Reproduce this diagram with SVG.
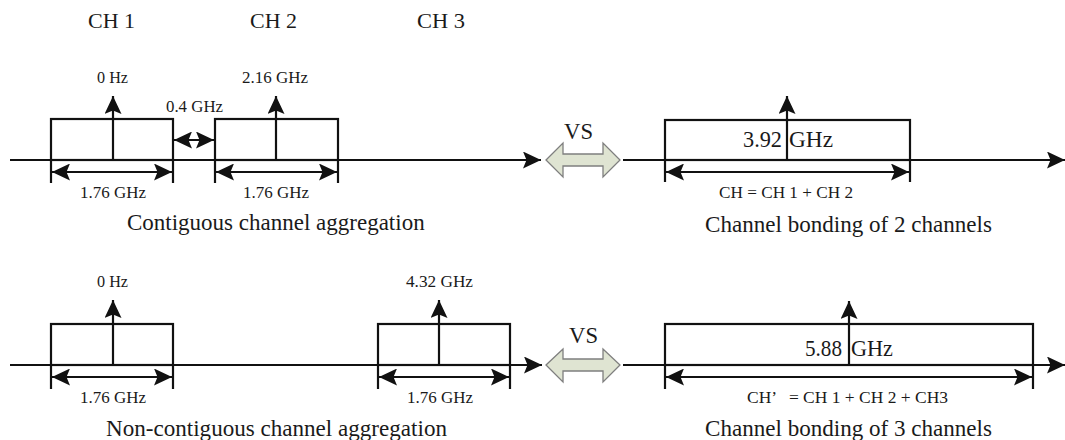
<svg xmlns="http://www.w3.org/2000/svg" width="1065" height="440" viewBox="0 0 1065 440">
<defs>
<marker id="ah" markerUnits="userSpaceOnUse" markerWidth="18" markerHeight="17" refX="18" refY="8.5" orient="auto-start-reverse" viewBox="0 0 18 17">
<path d="M0,0 L18,8.5 L0,17 L3.5,8.5 z" fill="#111"/>
</marker>
<style>
.ax{stroke:#111;stroke-width:1.8;fill:none}
.bx{stroke:#111;stroke-width:2.2;fill:none}
.tk{stroke:#111;stroke-width:2.2;fill:none}
.st{stroke:#111;stroke-width:2.2;fill:none;marker-end:url(#ah)}
.dm{stroke:#111;stroke-width:2.2;fill:none;marker-start:url(#ah);marker-end:url(#ah)}
.vs{fill:#dfe4d2;stroke:#7f7f7f;stroke-width:1.3}
text{font-family:"Liberation Serif","Times New Roman",serif;fill:#1a1a1a}
.sm{font-size:17px}
.hd{font-size:21px}
.cap{font-size:23px}
.big{font-size:23px}
</style>
</defs>
<rect width="1065" height="440" fill="#fff"/>

<g id="headers">
<text class="hd" x="88" y="28" textLength="47" lengthAdjust="spacingAndGlyphs">CH 1</text>
<text class="hd" x="250" y="28" textLength="47" lengthAdjust="spacingAndGlyphs">CH 2</text>
<text class="hd" x="417" y="28" textLength="48" lengthAdjust="spacingAndGlyphs">CH 3</text>
</g>

<g id="connectors">
<line class="ax" x1="10" y1="160" x2="541" y2="160" style="marker-end:url(#ah)"/>
<line class="ax" x1="623" y1="160" x2="1065" y2="160" style="marker-end:url(#ah)"/>
<line class="ax" x1="10" y1="365" x2="542" y2="365" style="marker-end:url(#ah)"/>
<line class="ax" x1="623" y1="365" x2="1065" y2="365" style="marker-end:url(#ah)"/>
<line class="dm" x1="174" y1="140" x2="214" y2="140"/>
</g>

<g id="top-ch1">
<rect class="bx" x="51" y="119" width="122" height="41"/>
<line class="st" x1="113" y1="160" x2="113" y2="96"/>
<line class="tk" x1="51" y1="160" x2="51" y2="183"/>
<line class="tk" x1="173" y1="160" x2="173" y2="183"/>
<line class="dm" x1="52" y1="172" x2="172" y2="172"/>
<text class="sm" x="97" y="83" textLength="31" lengthAdjust="spacingAndGlyphs">0 Hz</text>
<text class="sm" x="80" y="198" textLength="66" lengthAdjust="spacingAndGlyphs">1.76 GHz</text>
</g>

<g id="top-ch2">
<rect class="bx" x="215" y="119" width="123" height="41"/>
<line class="st" x1="276" y1="160" x2="276" y2="96"/>
<line class="tk" x1="215" y1="160" x2="215" y2="183"/>
<line class="tk" x1="338" y1="160" x2="338" y2="183"/>
<line class="dm" x1="216" y1="172" x2="337" y2="172"/>
<text class="sm" x="242" y="83" textLength="66" lengthAdjust="spacingAndGlyphs">2.16 GHz</text>
<text class="sm" x="243" y="198" textLength="66" lengthAdjust="spacingAndGlyphs">1.76 GHz</text>
</g>

<g id="gap-label">
<text class="sm" x="166" y="112" textLength="57" lengthAdjust="spacingAndGlyphs">0.4 GHz</text>
</g>

<g id="top-vs">
<polygon class="vs" points="546,160 563,143 563,154 603,154 603,143 620,160 603,177 603,166 563,166 563,177"/>
<text class="big" x="564" y="139" textLength="29" lengthAdjust="spacingAndGlyphs">VS</text>
</g>

<g id="top-bond">
<rect class="bx" x="665" y="120" width="245" height="40"/>
<line class="st" x1="787" y1="160" x2="787" y2="96"/>
<line class="tk" x1="665" y1="160" x2="665" y2="182"/>
<line class="tk" x1="910" y1="160" x2="910" y2="182"/>
<line class="dm" x1="666" y1="172" x2="909" y2="172"/>
<text class="big" x="743" y="147" textLength="39" lengthAdjust="spacingAndGlyphs">3.92</text>
<text class="big" x="789" y="147" textLength="44" lengthAdjust="spacingAndGlyphs">GHz</text>
<text class="sm" x="719" y="198" textLength="134" lengthAdjust="spacingAndGlyphs">CH = CH 1 + CH 2</text>
</g>

<g id="captions-top">
<text class="cap" x="127" y="230">Contiguous channel aggregation</text>
<text class="cap" x="705" y="232" textLength="287" lengthAdjust="spacingAndGlyphs">Channel bonding of 2 channels</text>
</g>

<g id="bot-ch1">
<rect class="bx" x="51" y="324" width="122" height="41"/>
<line class="st" x1="113" y1="365" x2="113" y2="300"/>
<line class="tk" x1="51" y1="365" x2="51" y2="389"/>
<line class="tk" x1="173" y1="365" x2="173" y2="389"/>
<line class="dm" x1="52" y1="377" x2="172" y2="377"/>
<text class="sm" x="97" y="287" textLength="31" lengthAdjust="spacingAndGlyphs">0 Hz</text>
<text class="sm" x="80" y="403" textLength="66" lengthAdjust="spacingAndGlyphs">1.76 GHz</text>
</g>

<g id="bot-ch3">
<rect class="bx" x="378" y="324" width="132" height="41"/>
<line class="st" x1="439" y1="365" x2="439" y2="300"/>
<line class="tk" x1="378" y1="365" x2="378" y2="389"/>
<line class="tk" x1="510" y1="365" x2="510" y2="389"/>
<line class="dm" x1="379" y1="377" x2="509" y2="377"/>
<text class="sm" x="406" y="287" textLength="67" lengthAdjust="spacingAndGlyphs">4.32 GHz</text>
<text class="sm" x="407" y="403" textLength="66" lengthAdjust="spacingAndGlyphs">1.76 GHz</text>
</g>

<g id="bot-vs">
<polygon class="vs" points="546,365 563,349 563,359 603,359 603,349 620,365 603,382 603,371 563,371 563,382"/>
<text class="big" x="569" y="343" textLength="29" lengthAdjust="spacingAndGlyphs">VS</text>
</g>

<g id="bot-bond">
<rect class="bx" x="665" y="324" width="368" height="41"/>
<line class="st" x1="849" y1="365" x2="849" y2="301"/>
<line class="tk" x1="665" y1="365" x2="665" y2="389"/>
<line class="tk" x1="1033" y1="365" x2="1033" y2="389"/>
<line class="dm" x1="666" y1="377" x2="1032" y2="377"/>
<text class="big" x="805" y="356" textLength="37" lengthAdjust="spacingAndGlyphs">5.88</text>
<text class="big" x="851" y="356" textLength="42" lengthAdjust="spacingAndGlyphs">GHz</text>
<text class="sm" x="747" y="403" textLength="201" lengthAdjust="spacingAndGlyphs" xml:space="preserve">CH’   = CH 1 + CH 2 + CH3</text>
</g>

<g id="captions-bottom">
<text class="cap" x="106" y="436" textLength="341" lengthAdjust="spacingAndGlyphs">Non-contiguous channel aggregation</text>
<text class="cap" x="705" y="436" textLength="287" lengthAdjust="spacingAndGlyphs">Channel bonding of 3 channels</text>
</g>
</svg>
